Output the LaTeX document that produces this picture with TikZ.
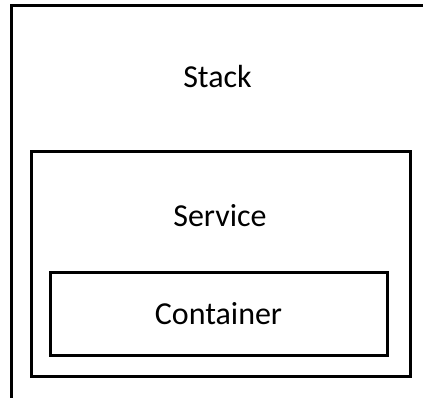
\documentclass[tikz,border=0pt]{standalone}
\usepackage{fontspec}
\setmainfont{Carlito}
\usetikzlibrary{positioning}

\begin{document}
\begin{tikzpicture}[
  x=1pt, y=-1pt,
  every node/.style={font=\fontsize{32}{38}\selectfont},
  layer/.style={rectangle, draw, line width=3pt, inner sep=0pt},
  layername/.style={anchor=base},
]
\useasboundingbox (0,0) rectangle (423,398);

% Boxes
\node[layer, minimum width=419pt, minimum height=399pt] at (220.5, 205.5) (stack) {};
\node[layer, minimum width=379pt, minimum height=224pt] at (220.5, 264) (service) {};
\node[layer, minimum width=337pt, minimum height=83pt] at (218.5, 313.5) (container) {Container};

% Labels
\node[layername] at (217.5, 88) (stacklbl) {Stack};
\node[layername] at (220, 227) (servicelbl) {Service};

\end{tikzpicture}
\end{document}
